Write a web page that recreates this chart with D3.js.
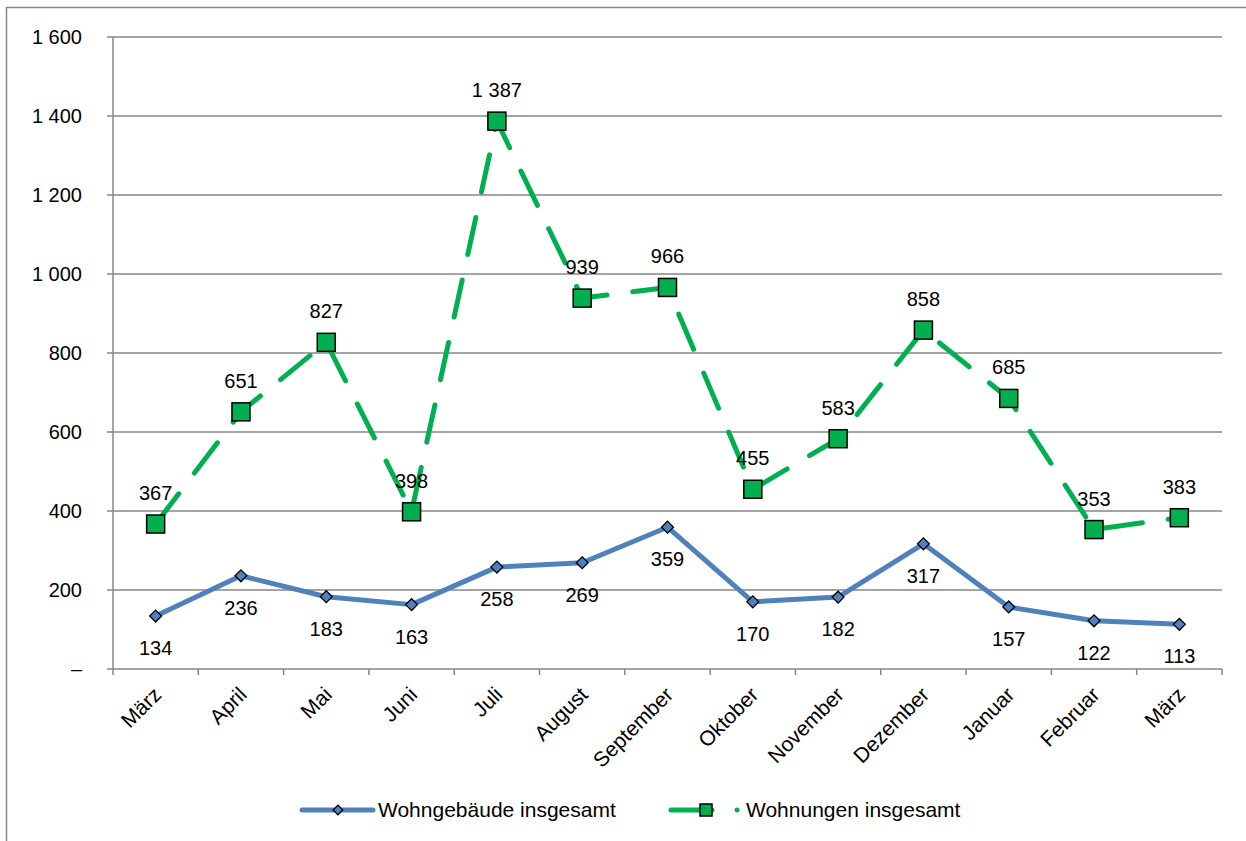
<!DOCTYPE html>
<html>
<head>
<meta charset="utf-8">
<script src="https://cdn.jsdelivr.net/npm/d3@7"></script>
<style>
  body { margin: 0; background: #fff; }
  text { font-family: "Liberation Sans", Arial, sans-serif; fill: #000; }
</style>
</head>
<body>
<div id="chart"></div>
<script>
// months shown on the x axis
const months = ["März", "April", "Mai", "Juni", "Juli", "August", "September", "Oktober", "November", "Dezember", "Januar", "Februar", "März"];
const gebaeude = [134, 236, 183, 163, 258, 269, 359, 170, 182, 317, 157, 122, 113];
const wohnungen = [367, 651, 827, 398, 1387, 939, 966, 455, 583, 858, 685, 353, 383];
const yTicks = [0, 200, 400, 600, 800, 1000, 1200, 1400, 1600];

const width = 1246, height = 841;
const blue = "#4f81bd", green = "#00b050";

const svg = d3.select("#chart").append("svg")
    .attr("width", width)
    .attr("height", height);

// outer frame
svg.append("rect")
    .attr("x", 6.5).attr("y", 7.5)
    .attr("width", 1250).attr("height", 850)
    .attr("fill", "none")
    .attr("stroke", "#898989")
    .attr("stroke-width", 1.5);

// x uses band scale so ticks sit between months
let x = d3.scaleBand()
    .domain(d3.range(months.length))
    .range([113, 1222]);
let y = d3.scaleLinear()
    .domain([0, 1600])
    .range([669, 37]);

let fmt = v => v === 0 ? "–" : d3.format(",")(v).replace(/,/g, " ");

// grid lines
svg.append("g")
    .selectAll("line")
    .data(yTicks.filter(d => d > 0))
    .enter()
    .append("line")
    .attr("x1", 107).attr("x2", 1222)
    .attr("y1", d => y(d)).attr("y2", d => y(d))
    .attr("stroke", "#868686")
    .attr("stroke-width", 1.5);

// y axis line + labels
svg.append("line")
    .attr("x1", 113).attr("x2", 113)
    .attr("y1", y(1600)).attr("y2", y(0))
    .attr("stroke", "#868686").attr("stroke-width", 1.5);

svg.append("g")
    .selectAll("text")
    .data(yTicks)
    .enter()
    .append("text")
    .attr("x", 82)
    .attr("y", d => y(d))
    .attr("dy", "0.35em")
    .attr("text-anchor", "end")
    .style("font-size", "20px")
    .text(fmt);

// x axis
svg.append("line")
    .attr("x1", 107).attr("x2", 1222)
    .attr("y1", y(0)).attr("y2", y(0))
    .attr("stroke", "#868686").attr("stroke-width", 1.5);

let tickPos = d3.range(months.length + 1).map(i => 113 + i * x.bandwidth());
svg.append("g")
    .selectAll("line")
    .data(tickPos)
    .enter()
    .append("line")
    .attr("x1", d => d).attr("x2", d => d)
    .attr("y1", y(0)).attr("y2", y(0) + 6)
    .attr("stroke", "#868686").attr("stroke-width", 1.5);

let cx = i => x(i) + x.bandwidth() / 2;

svg.append("g")
    .selectAll("text")
    .data(months)
    .enter()
    .append("text")
    .attr("transform", (d, i) => `translate(${cx(i) + 7},${y(0) + 27}) rotate(-45)`)
    .attr("text-anchor", "end")
    .style("font-size", "21px")
    .text(d => d);

// green dashed series
let line = d3.line().x((d, i) => cx(i)).y(d => y(d));

svg.append("path")
    .datum(wohnungen)
    .attr("d", line)
    .attr("fill", "none")
    .attr("stroke", green)
    .attr("stroke-width", 5)
    .attr("stroke-linecap", "round")
    .attr("stroke-dasharray", "38,26");

svg.append("path")
    .datum(gebaeude)
    .attr("d", line)
    .attr("fill", "none")
    .attr("stroke", blue)
    .attr("stroke-width", 5)
    .attr("stroke-linejoin", "round");

// markers
svg.append("g")
    .selectAll("rect")
    .data(wohnungen)
    .enter()
    .append("rect")
    .attr("x", (d, i) => cx(i) - 9)
    .attr("y", d => y(d) - 9)
    .attr("width", 18).attr("height", 18)
    .attr("fill", green)
    .attr("stroke", "#000")
    .attr("stroke-width", 1.5);

let diamond = d3.symbol().type(d3.symbolDiamond2).size(90);
svg.append("g")
    .selectAll("path")
    .data(gebaeude)
    .enter()
    .append("path")
    .attr("d", diamond)
    .attr("transform", (d, i) => `translate(${cx(i)},${y(d)})`)
    .attr("fill", blue)
    .attr("stroke", "#000")
    .attr("stroke-width", 1.3);

// data labels
svg.append("g")
    .selectAll("text")
    .data(wohnungen)
    .enter()
    .append("text")
    .attr("x", (d, i) => cx(i))
    .attr("y", d => y(d) - 31)
    .attr("dy", "0.35em")
    .attr("text-anchor", "middle")
    .style("font-size", "20px")
    .text(fmt);

svg.append("g")
    .selectAll("text")
    .data(gebaeude)
    .enter()
    .append("text")
    .attr("x", (d, i) => cx(i))
    .attr("y", d => y(d) + 32)
    .attr("dy", "0.35em")
    .attr("text-anchor", "middle")
    .style("font-size", "20px")
    .text(fmt);

// legend
let lg = svg.append("g");
lg.append("line")
    .attr("x1", 302).attr("x2", 373).attr("y1", 810).attr("y2", 810)
    .attr("stroke", blue).attr("stroke-width", 5).attr("stroke-linecap", "round");
lg.append("path")
    .attr("d", d3.symbol().type(d3.symbolDiamond2).size(60))
    .attr("transform", "translate(338,810)")
    .attr("fill", blue).attr("stroke", "#000").attr("stroke-width", 1.3);
lg.append("text")
    .attr("x", 378).attr("y", 810).attr("dy", "0.35em")
    .style("font-size", "21px")
    .text("Wohngebäude insgesamt");

lg.append("line")
    .attr("x1", 671).attr("x2", 712).attr("y1", 810).attr("y2", 810)
    .attr("stroke", green).attr("stroke-width", 5).attr("stroke-linecap", "round");
lg.append("circle")
    .attr("cx", 737).attr("cy", 810).attr("r", 2.5).attr("fill", green);
lg.append("rect")
    .attr("x", 700).attr("y", 804).attr("width", 12).attr("height", 12)
    .attr("fill", green).attr("stroke", "#000").attr("stroke-width", 1.5);
lg.append("text")
    .attr("x", 746).attr("y", 810).attr("dy", "0.35em")
    .style("font-size", "21px")
    .text("Wohnungen insgesamt");
</script>
</body>
</html>
